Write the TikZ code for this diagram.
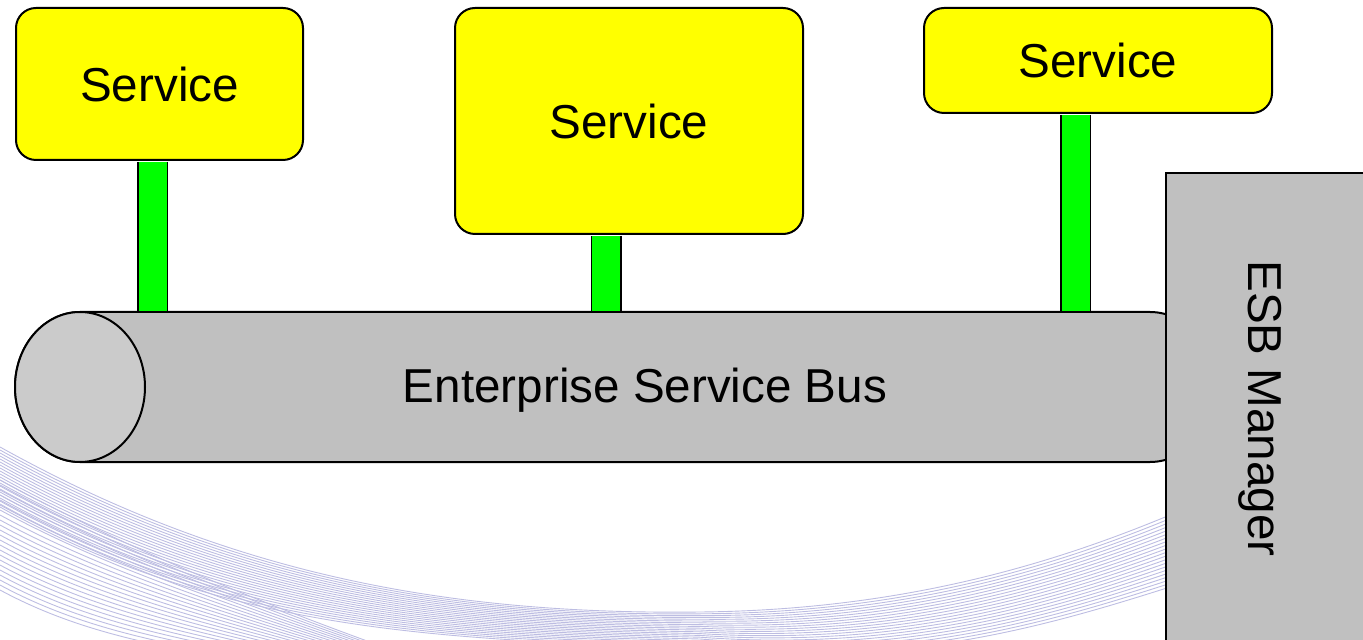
\documentclass[tikz,border=0pt]{standalone}
\usepackage{fontspec}
\setmainfont{Liberation Sans}
\usepackage{tikz}
\definecolor{svcyellow}{HTML}{FFFF00}
\definecolor{linkgreen}{HTML}{00FF00}
\definecolor{busgray}{HTML}{C0C0C0}
\definecolor{facegray}{HTML}{CBCBCB}
\definecolor{swirlblue}{HTML}{BDBDE2}

\begin{document}
\begin{tikzpicture}[x=.5pt,y=-.5pt,
 svc/.style={draw,fill=svcyellow,rounded corners=10pt,line width=1pt,font=\fontsize{23.8}{28}\selectfont},
 link/.style={line width=.75pt,double=linkgreen,double distance=14pt,shorten <=.5pt,shorten >=.5pt},
 bus/.style={draw,fill=busgray,line width=1pt},
 face/.style={draw,fill=facegray,line width=1pt},
 mgr/.style={draw,fill=busgray,line width=.75pt,minimum width=104pt,minimum height=240pt},
 lbl/.style={font=\fontsize{23.8}{28}\selectfont},
 swirl/.style={draw=swirlblue,line width=.45pt}]
 \useasboundingbox (0,0) rectangle (1363,640);
 \clip (0,0) rectangle (1363,640);
 % background swirl
 \foreach \k in {0,3,...,60}
  \draw[swirl] (0,447+\k) .. controls (230,575+\k) and (450,615+.4*\k) .. (700,612+.6*\k)
   .. controls (900,610+\k) and (1050,565+\k) .. (1170,515+1.2*\k);
 \foreach \k in {0,5,...,110}
  \draw[swirl] (0,480+\k) .. controls (120,545+\k) and (250,600+.5*\k) .. (420,660+.3*\k);
 % bus and manager
 \draw[bus] (80,312) -- (1150,312) arc[start angle=90,end angle=-90,x radius=32.5pt,y radius=37.5pt]
  -- (80,462) arc[start angle=270,end angle=90,x radius=32.5pt,y radius=37.5pt] -- cycle;
 \draw[face] (80,387) ellipse[x radius=32.5pt,y radius=37.5pt];
 \node[lbl] (bus) at (645,390) {Enterprise Service Bus};
 \node[mgr] (mgr) at (1270,413) {};
 \node[lbl,rotate=-90] (mgrlabel) at (1260,408.5) {ESB Manager};
 % services
 \node[svc,minimum width=143.5pt,minimum height=76pt] (s1) at (159.5,84) {Service};
 \node[svc,minimum width=174pt,minimum height=113pt] (s2) at (629,121) {Service};
 \node[svc,minimum width=174pt,minimum height=52.5pt] (s3) at (1098,60.5) {Service};
 \coordinate (l1) at (152.5,312);
 \coordinate (l2) at (606,312);
 \coordinate (l3) at (1075.5,312);
 \draw[link] (s1.south -| l1) -- (l1);
 \draw[link] (s2.south -| l2) -- (l2);
 \draw[link] (s3.south -| l3) -- (l3);
\end{tikzpicture}
\end{document}
